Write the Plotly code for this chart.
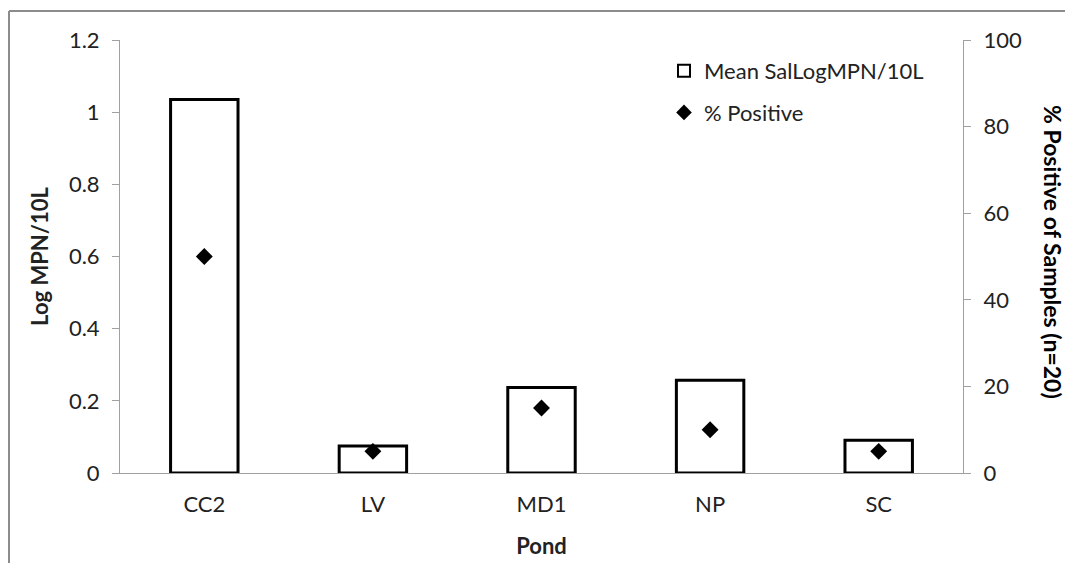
import plotly.graph_objects as go

ponds = ["CC2", "LV", "MD1", "NP", "SC"]
mean_log_mpn = [1.035, 0.075, 0.237, 0.257, 0.091]
pct_positive = [50, 5, 15, 10, 5]
left_ticks = [0, 0.2, 0.4, 0.6, 0.8, 1, 1.2]
right_ticks = [0, 20, 40, 60, 80, 100]

FONT = "Lato, 'Open Sans', sans-serif"
FS = 22

fig = go.Figure()
fig.add_trace(go.Bar(
    x=ponds, y=mean_log_mpn, name="Mean SalLogMPN/10L",
    marker=dict(color="white", line=dict(color="black", width=3)),
    width=0.4, legendgroup="a",
))
fig.add_trace(go.Scatter(
    x=ponds, y=pct_positive, name="% Positive", mode="markers",
    marker=dict(symbol="diamond", size=13, color="black"),
    yaxis="y2", legendgroup="b",
))

# page has an 8px body margin; compensate
OFF = 8
FW, FH = 1073 - OFF, 563 - OFF
L, T = 120 - OFF, 40 - OFF
W, H = 843, 433
R, B = FW - L - W, FH - T - H

fig.update_layout(
    width=FW, height=FH,
    margin=dict(l=L, r=R, t=T, b=B, autoexpand=False),
    paper_bgcolor="white", plot_bgcolor="white",
    font=dict(family=FONT, size=FS, color="#222"),
    showlegend=True,
    legend=dict(x=(664 - 120) / W, y=(473 - 50) / H, xanchor="left", yanchor="top",
                bgcolor="rgba(0,0,0,0)", font=dict(size=FS),
                itemsizing="constant", tracegroupgap=10),
    xaxis=dict(showline=True, linecolor="#a0a0a0", linewidth=1,
               ticks="", showgrid=False, tickfont=dict(size=FS),
               automargin=False, ticklabelstandoff=12,
               title=dict(text="<b>Pond</b>", font=dict(size=FS), standoff=22)),
    yaxis=dict(range=[0, 1.2], tickvals=left_ticks,
               ticktext=[f"{v:g}" for v in left_ticks],
               showline=True, linecolor="#a0a0a0", linewidth=1,
               ticks="outside", ticklen=7, tickcolor="#a0a0a0",
               showgrid=False, zeroline=False, tickfont=dict(size=FS),
               ticklabelstandoff=8, automargin=False,
               title=dict(text="<b>Log MPN/10L</b>", font=dict(size=FS), standoff=14)),
    yaxis2=dict(range=[0, 100], tickvals=right_ticks, overlaying="y", side="right",
                showline=True, linecolor="#a0a0a0", linewidth=1,
                ticks="outside", ticklen=7, tickcolor="#a0a0a0",
                showgrid=False, zeroline=False, tickfont=dict(size=FS),
                ticklabelstandoff=8, automargin=False),
    bargap=0.6,
)

fig.add_annotation(
    text="<b>% Positive of Samples (n=20)</b>", textangle=90,
    xref="paper", yref="paper", x=(1053 - 120) / W, y=(473 - 252) / H,
    xanchor="center", yanchor="middle", showarrow=False,
    font=dict(family=FONT, size=23, color="black"),
)

# outer chart border (top and left edges visible)
x0 = (9 - 120) / W
y1 = (473 - 11) / H
fig.add_shape(type="line", xref="paper", yref="paper",
              x0=x0, x1=1.3, y0=y1, y1=y1, line=dict(color="#8c8c8c", width=2))
fig.add_shape(type="line", xref="paper", yref="paper",
              x0=x0, x1=x0, y0=-0.3, y1=y1, line=dict(color="#8c8c8c", width=2))

fig.write_html("out.html")
